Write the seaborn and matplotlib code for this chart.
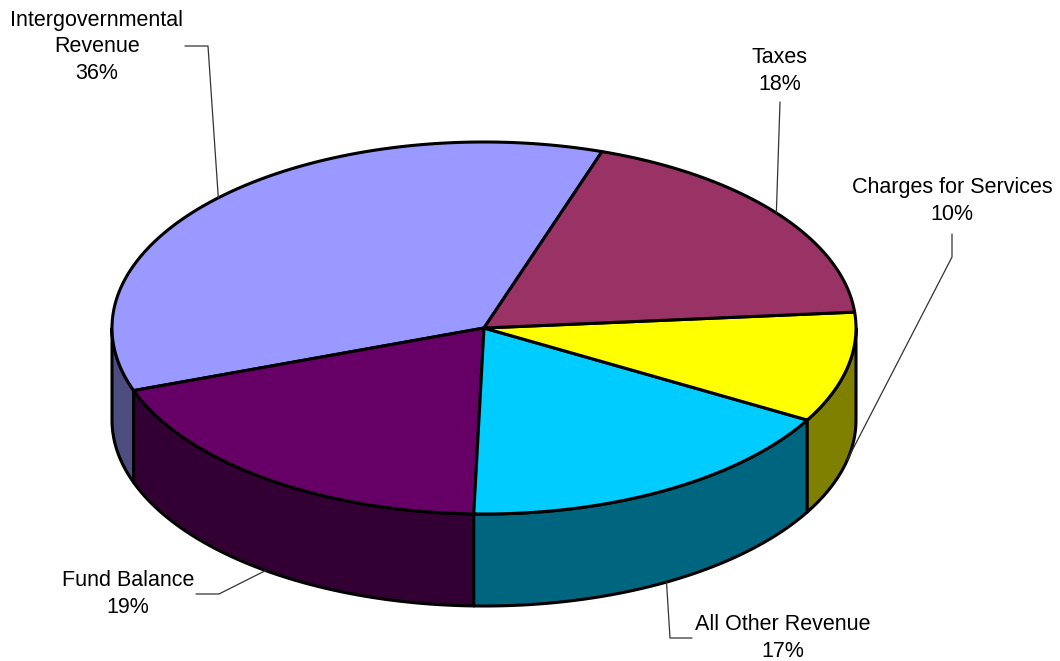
import numpy as np
import matplotlib
matplotlib.use("Agg")
import matplotlib.pyplot as plt
import seaborn as sns
from matplotlib.patches import Polygon

# Revenue shares (percent), counter-clockwise from the start angle
labels = ["Intergovernmental\nRevenue", "Fund Balance", "All Other Revenue",
          "Charges for Services", "Taxes"]
shares = [35.6, 19.1, 17.2, 9.6, 18.5]
colors = ["#9999FF", "#660066", "#00CCFF", "#FFFF00", "#993366"]

sns.set_theme(style="white")
plt.rcParams["font.family"] = ["Liberation Sans", "DejaVu Sans"]

# Geometry of the tilted pie (pixel space)
cx, cy = 484, 328
rx, ry = 372, 186
depth = 92
start = 71.5

# Label text centers and leader elbows
text_pos = [(97, 47), (128, 594), (783, 638), (952, 201), (780, 71)]
elbows = [[(185, 46), (208, 46)], [(196, 594), (219, 594)],
          [(692, 638), (670, 638)], [(952, 234), (952, 257)], [(780, 102)]]

fig = plt.figure(figsize=(10.6, 6.61), dpi=100)
ax = fig.add_axes([0, 0, 1, 1])
ax.set_xlim(0, 1060)
ax.set_ylim(661, 0)
ax.axis("off")


def ell(t, dz=0):
    t = np.radians(t)
    return np.column_stack([cx + rx * np.cos(t), cy - ry * np.sin(t) + dz])


bounds = start + np.concatenate([[0], np.cumsum(shares)]) * 3.6
side_colors = [tuple(np.array(matplotlib.colors.to_rgb(c)) * 0.5) for c in colors]

# side walls (front half only)
for i in range(len(shares)):
    a0, a1 = max(bounds[i], 180), min(bounds[i + 1], 360)
    if a1 <= a0:
        continue
    t = np.linspace(a0, a1, 100)
    pts = np.vstack([ell(t), ell(t[::-1], depth)])
    ax.add_patch(Polygon(pts, closed=True, facecolor=side_colors[i],
                         edgecolor="black", lw=2.2, joinstyle="round"))

# top faces
for i in range(len(shares)):
    t = np.linspace(bounds[i], bounds[i + 1], 200)
    pts = np.vstack([[cx, cy], ell(t)])
    ax.add_patch(Polygon(pts, closed=True, facecolor=colors[i],
                         edgecolor="black", lw=2.2, joinstyle="round"))

# labels with leader lines
for i in range(len(shares)):
    mid = (bounds[i] + bounds[i + 1]) / 2 % 360
    dz = depth if 180 < mid < 360 else 0
    anchor = ell(np.array([mid]), dz)[0]
    line = elbows[i] + [tuple(anchor)]
    xs, ys = zip(*line)
    ax.plot(xs, ys, color="#333333", lw=0.9)
    ax.text(text_pos[i][0], text_pos[i][1], f"{labels[i]}\n{shares[i]:.0f}%",
            ha="center", va="center", fontsize=15.5, linespacing=1.37,
            color="black")

fig.savefig("out.png", dpi=100)
